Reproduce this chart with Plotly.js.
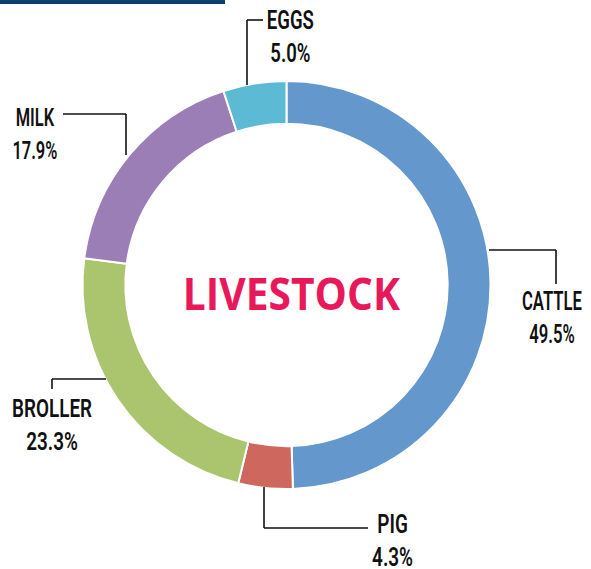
<!DOCTYPE html>
<html><head><meta charset="utf-8">
<script src="https://cdn.plot.ly/plotly-3.0.1.min.js"></script>
<style>html,body{margin:0;padding:0;background:#fff}#c{width:591px;height:569px}</style>
</head><body><div id="c"></div>
<script>
const categories = ["CATTLE", "PIG", "BROLLER", "MILK", "EGGS"];
const shares = [49.5, 4.3, 23.3, 17.9, 5.0];
const colors = ["#6497CB", "#CE675E", "#ABC56E", "#9A7EB5", "#5DBAD5"];
const centerTitle = "LIVESTOCK";

const W = 591, H = 569;
const px = x => x / W, py = y => 1 - y / H;
const cx = 286.5, cy = 285, R = 204;

const labelFont = {family: "Roboto, DejaVu Sans, sans-serif", size: 25.5, weight: 600, color: "#111"};
const fmt = i => categories[i] + "<br>" + shares[i].toFixed(1) + "%";

// label placements (pixel centres), target rendered widths, and leader lines
const labelPos = [
  {x: 552, y: 317, w: 60},
  {x: 392, y: 540, w: 41},
  {x: 52, y: 424, w: 80},
  {x: 34.5, y: 134, w: 45},
  {x: 290, y: 37, w: 47}
];
const leaders = [
  [[489, 250], [556, 250], [556, 284]],
  [[264, 487], [264, 528], [368, 528]],
  [[52, 389], [52, 379], [106, 379]],
  [[63, 114], [126, 114], [126, 155]],
  [[247, 85], [247, 20], [263, 20]]
];

const annotations = categories.map((c, i) => ({
  text: fmt(i), showarrow: false, xref: "paper", yref: "paper",
  x: px(labelPos[i].x), y: py(labelPos[i].y), xanchor: "center", yanchor: "middle",
  align: "center", font: labelFont
}));
annotations.push({
  text: centerTitle, showarrow: false, xref: "paper", yref: "paper",
  x: px(291), y: py(293), xanchor: "center", yanchor: "middle",
  font: {family: "Open Sans, Lato, sans-serif", size: 44, weight: 700, color: "#E8195A"}
});
const targetWidths = labelPos.map(p => p.w).concat([218]);

const shapes = [];
leaders.forEach(pts => {
  for (let k = 0; k < pts.length - 1; k++) {
    shapes.push({type: "line", xref: "paper", yref: "paper",
      x0: px(pts[k][0]), y0: py(pts[k][1]), x1: px(pts[k+1][0]), y1: py(pts[k+1][1]),
      line: {color: "#111", width: 1.6}});
  }
});
shapes.push({type: "rect", xref: "paper", yref: "paper", x0: 0, x1: px(225), y0: py(4), y1: 1,
  fillcolor: "#0B4069", line: {width: 0}});

const data = [{
  type: "pie", labels: categories, values: shares, hole: 0.79, sort: false,
  direction: "clockwise", rotation: 0, textinfo: "none", hoverinfo: "label+percent",
  marker: {colors: colors, line: {color: "#fff", width: 2}},
  domain: {x: [px(cx - R), px(cx + R)], y: [1 - (cy + R) / H, 1 - (cy - R) / H]},
  showlegend: false
}];

Plotly.newPlot("c", data, {
  width: W, height: H, margin: {l: 0, r: 0, t: 0, b: 0},
  paper_bgcolor: "#fff", plot_bgcolor: "#fff", showlegend: false,
  annotations: annotations, shapes: shapes
}, {displayModeBar: false, staticPlot: true}).then(gd => {
  const texts = gd.querySelectorAll("g.annotation text.annotation-text");
  texts.forEach((t, i) => {
    const w = t.getBBox().width;
    if (!w || !targetWidths[i]) return;
    const s = targetWidths[i] / w;
    t.style.transformBox = "fill-box";
    t.style.transformOrigin = "center";
    t.style.transform = "scaleX(" + s.toFixed(4) + ")";
  });
});
</script></body></html>
